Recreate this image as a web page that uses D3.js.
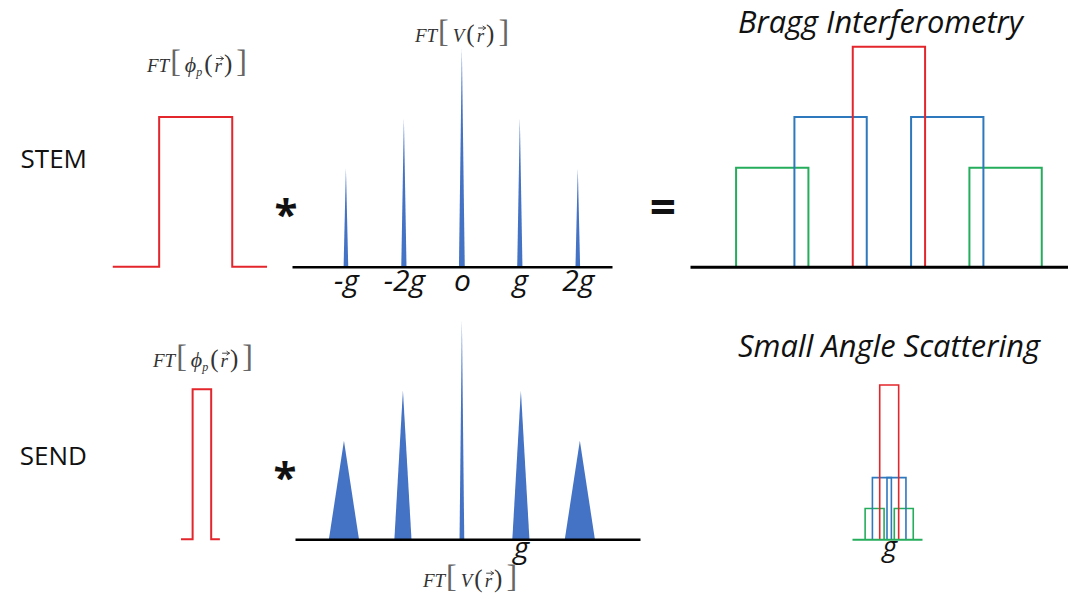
<!DOCTYPE html>
<html>
<head>
  <meta charset="utf-8">
  <title>STEM vs SEND</title>
  <style>
    body { margin: 0; background: #fff; }
    svg { display: block; }
  </style>
</head>
<body>

<svg width="1068" height="599" viewBox="0 0 1068 599"></svg>

<script src="https://d3js.org/d3.v7.min.js"></script>
<script>
// diffraction orders and their relative intensities
const orders = [-2, -1, 0, 1, 2];
const stemTicks = ['-g', '-2g', 'o', 'g', '2g'];
const peakHeights = [0.45, 0.68, 1, 0.68, 0.45];
const stemPeakWidths = [0.08, 0.09, 0.1, 0.09, 0.08];   // in units of g
const sendPeakWidths = [0.51, 0.29, 0.08, 0.29, 0.51];

// probe profiles (x in units of g, y relative to central peak)
const stemProbe = [[-1.43, 0], [-0.63, 0], [-0.63, 0.685], [0.63, 0.685], [0.63, 0], [1.23, 0]];
const sendProbe = [[-0.36, 0], [-0.16, 0], [-0.16, 0.685], [0.16, 0.685], [0.16, 0], [0.31, 0]];

// convolution results
const braggHeights = [0.45, 0.68, 1, 0.68, 0.45];
const braggHalfWidth = 0.62;
const sasHeights = [0.2, 0.4, 1, 0.4, 0.2];
const sasHalfWidth = 1.3;

const sendTicks = [1];
const sendTickLabels = ['g'];
const sasTicks = [0];
const sasTickLabels = ['g'];

const rowLabels = ['STEM', 'SEND'];
const panelTitles = ['Bragg Interferometry', 'Small Angle Scattering'];

const svg = d3.select('svg');
const red = '#e3262c';
const blue = '#2e78bd';
const green = '#25ad5c';
const spikeColor = '#4472c4';
const orderColor = o => [red, blue, green][Math.abs(o)];
const sans = "'Open Sans', sans-serif";
const serif = "'Liberation Serif', 'DejaVu Serif', serif";

const line = (xs, ys) => d3.line().x(d => xs(d[0])).y(d => ys(d[1]));

// fit a text element to a target width
function fitWidth (sel, w) {
  const fs = parseFloat(sel.attr('font-size'));
  const len = sel.node().getComputedTextLength();
  sel.attr('font-size', fs * w / len);
}

// FT[ ... ] math labels
function ftLabel (x, y, kind) {
  const t = svg.append('text')
    .attr('x', x).attr('y', y)
    .attr('text-anchor', 'middle')
    .attr('font-family', serif)
    .attr('font-size', 19)
    .attr('fill', '#333');
  t.append('tspan').attr('font-style', 'italic').text('FT');
  t.append('tspan').attr('font-size', 32).attr('fill', '#666').attr('dx', 1).text('[');
  if (kind === 'phi') {
    t.append('tspan').attr('font-style', 'italic').attr('font-size', 22).attr('dx', 4).text('ϕ');
    t.append('tspan').attr('font-style', 'italic').attr('font-size', 12).attr('dy', 4).text('p');
    t.append('tspan').attr('font-size', 25).attr('dy', -4).attr('dx', 2).text('(');
  } else {
    t.append('tspan').attr('font-style', 'italic').attr('dx', 4).text('V');
    t.append('tspan').attr('font-size', 25).attr('dx', 2).text('(');
  }
  const r = t.append('tspan').attr('font-style', 'italic').attr('dx', 2).text('r');
  t.append('tspan').attr('font-size', 25).attr('dx', 2).text(')');
  t.append('tspan').attr('font-size', 32).attr('fill', '#666').attr('dx', 4).text(']');

  // vector arrow over r
  const bb = r.node().getBBox();
  const ay = y - 13.5;
  const x0 = bb.x + 1.5;
  const x1 = bb.x + bb.width + 1;
  svg.append('path')
    .attr('d', `M${x0},${ay}H${x1}M${x1 - 3},${ay - 2}L${x1},${ay}L${x1 - 3},${ay + 2}`)
    .attr('fill', 'none')
    .attr('stroke', '#333')
    .attr('stroke-width', 0.9);
}

function styleAxis (g, color, width, labelY, fontSize) {
  g.select('.domain').attr('stroke', color).attr('stroke-width', width);
  g.selectAll('.tick line').remove();
  g.selectAll('.tick text')
    .attr('y', labelY).attr('dy', 0)
    .attr('fill', '#111')
    .attr('font-family', sans)
    .attr('font-style', 'italic')
    .attr('font-size', fontSize);
}

function spikes (xs, ys, widths) {
  const pts = (o, i) => [[o - widths[i] / 2, 0], [o, peakHeights[i]], [o + widths[i] / 2, 0]];
  svg.append('g').selectAll('path').data(orders).join('path')
    .attr('d', (o, i) => line(xs, ys)(pts(o, i)) + 'Z')
    .attr('fill', spikeColor);
}

function boxes (xs, ys, heights, hw, sw) {
  const idx = [0, 4, 1, 3, 2];   // green, blue, red on top
  svg.append('g').selectAll('path').data(idx).join('path')
    .attr('d', i => line(xs, ys)([
      [orders[i] - hw, 0], [orders[i] - hw, heights[i]],
      [orders[i] + hw, heights[i]], [orders[i] + hw, 0]
    ]))
    .attr('fill', 'none')
    .attr('stroke', i => orderColor(orders[i]))
    .attr('stroke-width', sw);
}

// ---- STEM row ----
const xProbe1 = d3.scaleLinear().domain([0, 1]).range([195.7, 253.7]);
const yProbe1 = d3.scaleLinear().domain([0, 1]).range([266.7, 48.3]);
svg.append('path')
  .attr('d', line(xProbe1, yProbe1)(stemProbe))
  .attr('fill', 'none').attr('stroke', red).attr('stroke-width', 2);
ftLabel(197, 72, 'phi');

const xStem = d3.scaleLinear().domain([-2.93, 2.59]).range([292, 612]);
const yStem = d3.scaleLinear().domain([0, 1]).range([266.7, 48.3]);
spikes(xStem, yStem, stemPeakWidths);
svg.append('g')
  .attr('transform', `translate(0,${yStem(0)})`)
  .call(d3.axisBottom(xStem).tickValues(orders).tickFormat((d, i) => stemTicks[i]).tickSize(0).tickSizeOuter(0))
  .call(g => styleAxis(g, '#000', 2.5, 24, 30));
ftLabel(462, 41.5, 'V');

const xBragg = d3.scaleLinear().domain([-3.41, 3.07]).range([690, 1068]);
const yBragg = d3.scaleLinear().domain([0, 1]).range([266.7, 46.7]);
boxes(xBragg, yBragg, braggHeights, braggHalfWidth, 2);
svg.append('g')
  .attr('transform', `translate(0,${yBragg(0)})`)
  .call(d3.axisBottom(xBragg).tickValues([]).tickSizeOuter(0))
  .call(g => styleAxis(g, '#000', 3, 0, 0));

// ---- SEND row ----
const xProbe2 = d3.scaleLinear().domain([0, 1]).range([201.9, 259.9]);
const yProbe2 = d3.scaleLinear().domain([0, 1]).range([539.3, 320.3]);
svg.append('path')
  .attr('d', line(xProbe2, yProbe2)(sendProbe))
  .attr('fill', 'none').attr('stroke', red).attr('stroke-width', 2);
ftLabel(203, 366.7, 'phi');

const xSend = d3.scaleLinear().domain([-2.83, 3.02]).range([295, 640]);
const ySend = d3.scaleLinear().domain([0, 1]).range([539.3, 320.3]);
spikes(xSend, ySend, sendPeakWidths);
svg.append('g')
  .attr('transform', `translate(0,${ySend(0)})`)
  .call(d3.axisBottom(xSend).tickValues(sendTicks).tickFormat((d, i) => sendTickLabels[i]).tickSize(0).tickSizeOuter(0))
  .call(g => styleAxis(g, '#000', 2.5, 19, 30));
ftLabel(470, 586.7, 'V');

const xSas = d3.scaleLinear().domain([-5.1, 4.5]).range([852, 922]);
const ySas = d3.scaleLinear().domain([0, 1]).range([539.3, 385]);
boxes(xSas, ySas, sasHeights, sasHalfWidth, 1.6);
svg.append('g')
  .attr('transform', `translate(0,${ySas(0)})`)
  .call(d3.axisBottom(xSas).tickValues(sasTicks).tickFormat((d, i) => sasTickLabels[i]).tickSize(0).tickSizeOuter(0))
  .call(g => styleAxis(g, green, 2, 17, 28));

// ---- labels ----
svg.selectAll('.row').data(rowLabels).join('text')
  .attr('class', 'row')
  .attr('x', 87)
  .attr('y', (d, i) => [168, 465][i])
  .attr('text-anchor', 'end')
  .attr('font-family', sans)
  .attr('font-size', 26)
  .attr('fill', '#111')
  .text(d => d);

svg.selectAll('.title').data(panelTitles).join('text')
  .attr('class', 'title')
  .attr('x', (d, i) => [738, 738][i])
  .attr('y', (d, i) => [33, 356.7][i])
  .attr('font-family', sans)
  .attr('font-style', 'italic')
  .attr('font-size', 26)
  .attr('fill', '#111')
  .text(d => d)
  .each(function (d, i) { fitWidth(d3.select(this), [285, 302][i]); });

// operators
svg.selectAll('.op').data([[286, 229, '*', 42], [285, 492, '*', 42], [663, 224, '=', 46]]).join('text')
  .attr('class', 'op')
  .attr('x', d => d[0]).attr('y', d => d[1])
  .attr('text-anchor', 'middle')
  .attr('font-family', sans)
  .attr('font-weight', 'bold')
  .attr('font-size', d => d[3])
  .attr('fill', '#111')
  .text(d => d[2]);
</script>

</body>
</html>
